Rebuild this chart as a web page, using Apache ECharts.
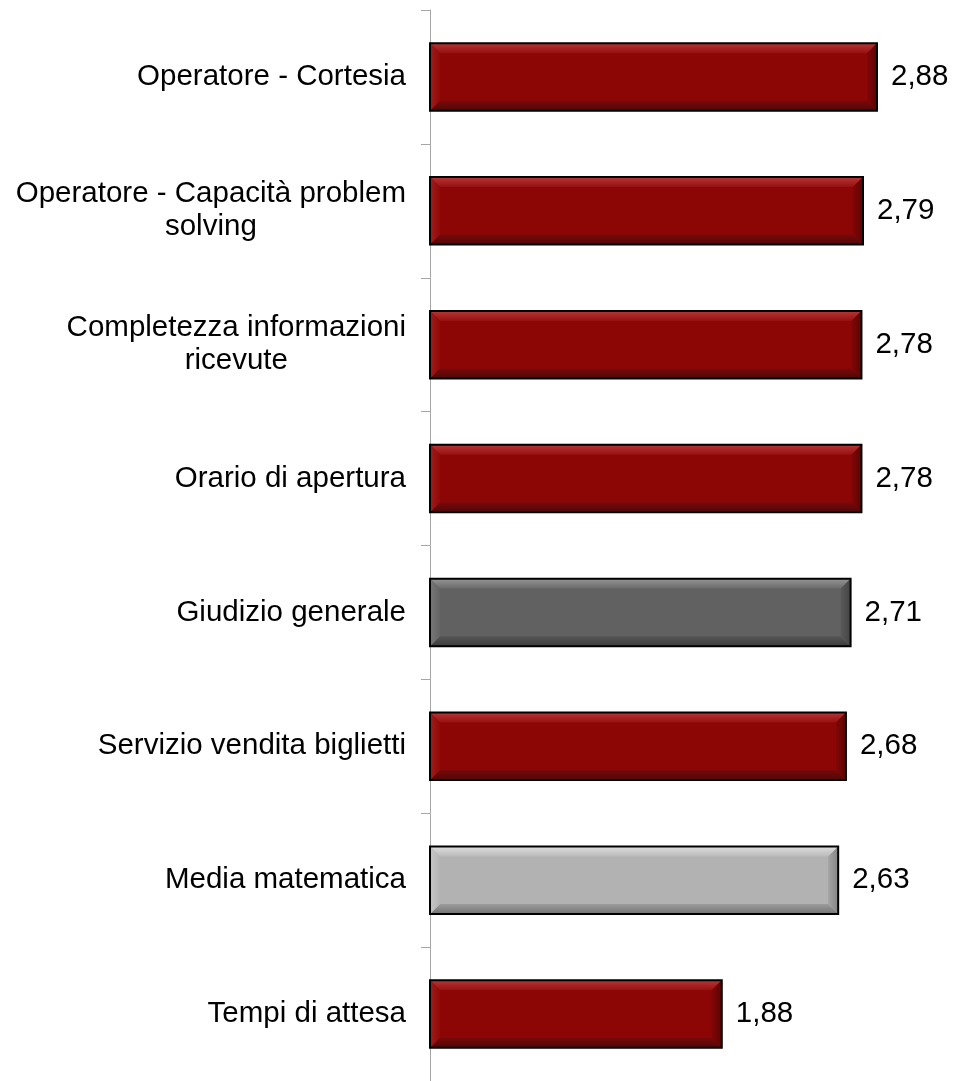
<!DOCTYPE html>
<html>
<head>
<meta charset="utf-8">
<script src="https://cdn.jsdelivr.net/npm/echarts@6/dist/echarts.min.js"></script>
<style>
  html, body { margin: 0; padding: 0; background: #ffffff; }
  #chart { width: 961px; height: 1081px; }
</style>
</head>
<body>
<div id="chart"></div>
<script>
// Satisfaction scores, top to bottom
const categories = [
  'Operatore - Cortesia',
  'Operatore - Capacità problem\nsolving',
  'Completezza informazioni\nricevute',
  'Orario di apertura',
  'Giudizio generale',
  'Servizio vendita biglietti',
  'Media matematica',
  'Tempi di attesa'
];
const values = [2.88, 2.79, 2.78, 2.78, 2.71, 2.68, 2.63, 1.88];
// Which kind of item each row is (drives the bar colour)
const kinds = ['item', 'item', 'item', 'item', 'overall', 'item', 'mean', 'item'];

// Bevelled bar palette per kind
const palette = {
  item:    { main: '#8C0606', top: ['#B83636', '#961010'], bottom: ['#7A0808', '#4E0808'], left: ['#A31C1C', '#900909'], right: ['#820606', '#5A0505'] },
  overall: { main: '#616161', top: ['#969696', '#6A6A6A'], bottom: ['#555555', '#3C3C3C'], left: ['#787878', '#646464'], right: ['#5A5A5A', '#444444'] },
  mean:    { main: '#B2B2B2', top: ['#DEDEDE', '#BBBBBB'], bottom: ['#9C9C9C', '#747474'], left: ['#C6C6C6', '#B4B4B4'], right: ['#A4A4A4', '#858585'] }
};

const fmt = v => v.toFixed(2).replace('.', ',');

function renderBar(params, api) {
  const idx = api.value(1);
  const v = api.value(0);
  const start = api.coord([0, idx]);
  const end = api.coord([v, idx]);
  const h = api.size([0, 1])[1] * 0.505;
  const x0 = start[0], x1 = end[0];
  const yc = start[1], y0 = yc - h / 2, y1 = yc + h / 2;
  const b = 10;
  const c = palette[kinds[idx]];
  const grad = (horiz, a, z) => new echarts.graphic.LinearGradient(0, 0, horiz ? 1 : 0, horiz ? 0 : 1, [
    { offset: 0, color: a }, { offset: 1, color: z }
  ]);
  return {
    type: 'group',
    children: [
      { type: 'rect', shape: { x: x0, y: y0, width: x1 - x0, height: h }, style: { fill: c.main } },
      { type: 'polygon', shape: { points: [[x0, y0], [x1, y0], [x1 - b, y0 + b], [x0 + b, y0 + b]] },
        style: { fill: grad(false, c.top[0], c.top[1]) } },
      { type: 'polygon', shape: { points: [[x0, y1], [x1, y1], [x1 - b, y1 - b], [x0 + b, y1 - b]] },
        style: { fill: grad(false, c.bottom[0], c.bottom[1]) } },
      { type: 'polygon', shape: { points: [[x0, y0], [x0 + b, y0 + b], [x0 + b, y1 - b], [x0, y1]] },
        style: { fill: grad(true, c.left[0], c.left[1]) } },
      { type: 'polygon', shape: { points: [[x1, y0], [x1 - b, y0 + b], [x1 - b, y1 - b], [x1, y1]] },
        style: { fill: grad(true, c.right[0], c.right[1]) } },
      { type: 'rect', shape: { x: x0, y: y0, width: x1 - x0, height: h },
        style: { fill: null, stroke: '#000000', lineWidth: 2 } },
      { type: 'text', x: x1 + 14, y: yc,
        style: { text: fmt(v), fill: '#000000', font: '29.5px "Liberation Sans", Arial, sans-serif',
                 textAlign: 'left', textVerticalAlign: 'middle' } }
    ]
  };
}

const chart = echarts.init(document.getElementById('chart'), null, { renderer: 'canvas' });
chart.setOption({
  animation: false,
  backgroundColor: '#ffffff',
  grid: { left: 430, top: 10, width: 465.6, height: 1077, containLabel: false },
  xAxis: {
    type: 'value', min: 0, max: 3,
    show: false
  },
  yAxis: {
    type: 'category',
    data: categories,
    inverse: true,
    axisLine: { show: true, lineStyle: { color: '#A6A6A6', width: 1 } },
    axisTick: { show: true, inside: false, length: 9, lineStyle: { color: '#A6A6A6' } },
    axisLabel: {
      margin: 24,
      color: '#000000',
      fontSize: 29.5,
      fontFamily: '"Liberation Sans", Arial, sans-serif',
      lineHeight: 33,
      formatter: s => s.split('\n').map(t => '{c|' + t + '}').join('\n'),
      rich: { c: { align: 'center', fontSize: 29.5, lineHeight: 33, color: '#000000',
                   fontFamily: '"Liberation Sans", Arial, sans-serif' } }
    },
    splitLine: { show: false }
  },
  series: [{
    type: 'custom',
    renderItem: renderBar,
    encode: { x: 0, y: 1 },
    data: values.map((v, i) => [v, i])
  }]
});
</script>
</body>
</html>
